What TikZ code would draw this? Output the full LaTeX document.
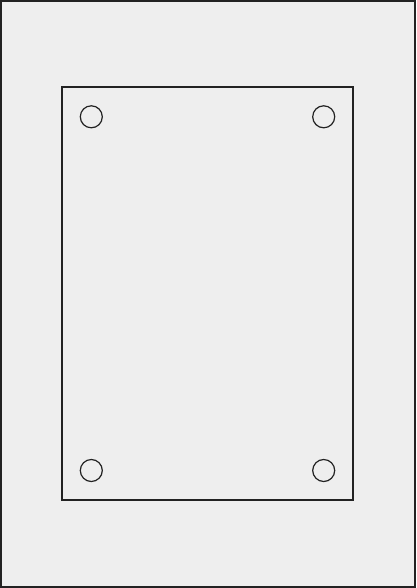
\documentclass[tikz,border=0pt]{standalone}
\definecolor{bg}{HTML}{EEEEEE}
\definecolor{ln}{HTML}{222222}
\tikzset{frameline/.style={draw=ln,line width=1.2pt},hole/.style={circle,draw=ln,line width=1.2pt,minimum size=22pt,inner sep=0pt}}
\begin{document}
\begin{tikzpicture}[x=1pt,y=-1pt]
\useasboundingbox (0,0) rectangle (416,588);
\fill[bg] (0,0) rectangle (416,588);
\draw[frameline] (1,1) rectangle (415,587);
\draw[frameline] (62,87) rectangle (353,500);
\node[hole] (h1) at (91.3,116.8) {};
\node[hole] (h2) at (323.7,116.8) {};
\node[hole] (h3) at (91.3,470.5) {};
\node[hole] (h4) at (323.7,470.5) {};
\end{tikzpicture}
\end{document}
